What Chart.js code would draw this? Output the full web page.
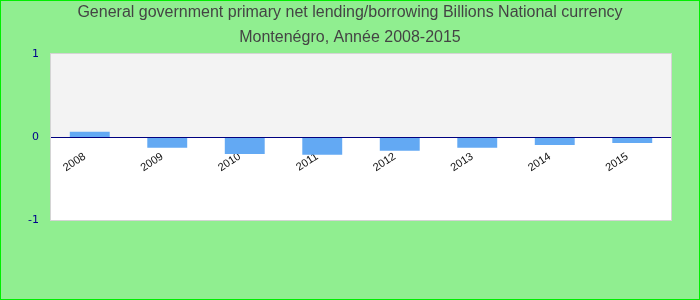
<!DOCTYPE html>
<html lang="fr">
<head>
    <meta charset="UTF-8">
    <title>Montenégro - primary net lending/borrowing</title>
    <style>
        html, body {
            margin: 0;
            padding: 0;
            background: #90ee90;
        }
        .chart-box {
            width: 700px;
            height: 300px;
        }
    </style>
</head>
<body>
    <div class="chart-box">
        <canvas id="lendingChart" width="700" height="300"></canvas>
    </div>

    <script src="https://cdn.jsdelivr.net/npm/chart.js@4.4.3/dist/chart.umd.min.js"></script>
    <script>
        // Données
        const years = ['2008', '2009', '2010', '2011', '2012', '2013', '2014', '2015'];
        const lending = [0.064, -0.13, -0.205, -0.215, -0.165, -0.13, -0.096, -0.072];
        const yTicks = [-1, 0, 1];
        const titleLines = [
            'General government primary net lending/borrowing Billions National currency',
            'Montenégro, Année 2008-2015'
        ];

        // fond vert, titre, zone grise au-dessus de zéro, ligne du zéro, cadre
        const decorations = {
            id: 'decorations',
            beforeDraw: (chart) => {
                const ctx = chart.ctx;
                const a = chart.chartArea;
                const y0 = chart.scales.y.getPixelForValue(0);
                ctx.save();
                ctx.fillStyle = '#90ee90';
                ctx.fillRect(0, 0, chart.width, chart.height);
                // zone du graphique : gris au-dessus de zéro, blanc en dessous
                ctx.fillStyle = '#ffffff';
                ctx.fillRect(a.left, a.top, a.right - a.left, a.bottom - a.top);
                ctx.fillStyle = '#f3f3f3';
                ctx.fillRect(a.left, a.top, a.right - a.left, y0 - a.top);
                ctx.strokeStyle = '#d4d4d4';
                ctx.lineWidth = 1;
                ctx.strokeRect(a.left - 0.5, a.top - 0.5, a.right - a.left + 1, a.bottom - a.top + 1);
                // titre centré sur toute la largeur
                ctx.fillStyle = '#444444';
                ctx.font = "16px 'Liberation Sans', Arial, sans-serif";
                ctx.textAlign = 'center';
                ctx.textBaseline = 'middle';
                titleLines.forEach((line, i) => {
                    ctx.fillText(line, chart.width / 2, 13 + i * 25);
                });
                ctx.restore();
            },
            afterDatasetsDraw: (chart) => {
                const ctx = chart.ctx;
                const a = chart.chartArea;
                const y0 = Math.round(chart.scales.y.getPixelForValue(0)) + 0.5;
                ctx.save();
                ctx.strokeStyle = '#000080';
                ctx.lineWidth = 1;
                ctx.beginPath();
                ctx.moveTo(a.left, y0);
                ctx.lineTo(a.right, y0);
                ctx.stroke();
                ctx.restore();
            },
            afterDraw: (chart) => {
                const ctx = chart.ctx;
                ctx.save();
                ctx.strokeStyle = '#00ee00';
                ctx.lineWidth = 1;
                ctx.strokeRect(0.5, 0.5, chart.width - 1, chart.height - 1);
                ctx.restore();
            }
        };

        new Chart(document.getElementById('lendingChart'), {
            type: 'bar',
            data: {
                labels: years,
                datasets: [{
                    label: 'Billions National currency',
                    data: lending,
                    backgroundColor: '#63a9f3',
                    borderWidth: 0,
                    barPercentage: 0.515,
                    categoryPercentage: 1
                }]
            },
            options: {
                responsive: false,
                animation: false,
                layout: {
                    padding: { top: 54, right: 29, bottom: 80, left: 0 }
                },
                plugins: {
                    legend: { display: false },
                    tooltip: { enabled: false },
                    title: { display: false }
                },
                scales: {
                    x: {
                        position: { y: 0 },
                        grid: { display: false, drawTicks: false },
                        border: { display: false },
                        ticks: {
                            color: '#111111',
                            font: { family: "'Liberation Sans', Arial, sans-serif", size: 11 },
                            minRotation: 33,
                            maxRotation: 33,
                            labelOffset: -5,
                            padding: 13
                        }
                    },
                    y: {
                        min: -1,
                        max: 1,
                        afterBuildTicks: (scale) => {
                            scale.ticks = yTicks.map(v => ({ value: v }));
                        },
                        grid: { display: false, drawTicks: false },
                        border: { display: false },
                        ticks: {
                            color: '#00008b',
                            font: { family: "'DejaVu Sans', sans-serif", size: 11 },
                            padding: 12
                        },
                        afterFit: (scale) => { scale.width = 51; }
                    }
                }
            },
            plugins: [decorations]
        });
    </script>
</body>
</html>
